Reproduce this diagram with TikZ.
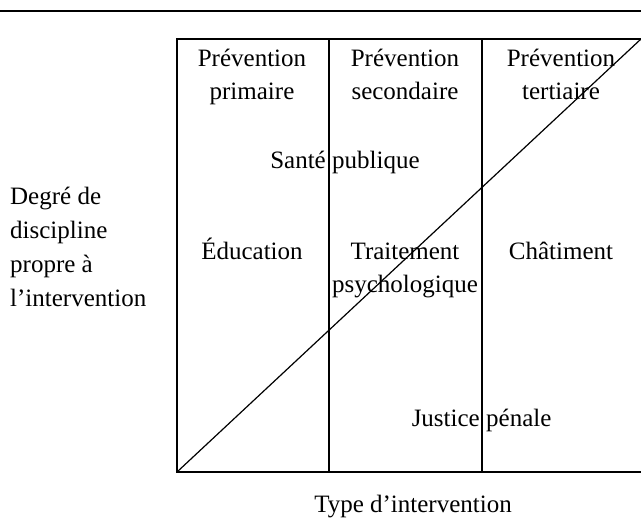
\documentclass[tikz,border=0pt]{standalone}
\usepackage{fontspec}
\setmainfont{Liberation Serif}
\begin{document}
\begin{tikzpicture}[x=1pt,y=-1pt,
  lbl/.style={inner sep=0pt,font=\fontsize{25}{33}\selectfont},
  frame/.style={line width=1.2pt,black}]
\useasboundingbox[fill=white] (0,0) rectangle (641,521);

% corners of the chart and column boundaries
\coordinate (tl) at (177,39);
\coordinate (tr) at (641,39);
\coordinate (bl) at (177,472);
\coordinate (br) at (641,472);
\coordinate (c1t) at (329,39);
\coordinate (c1b) at (329,472);
\coordinate (c2t) at (482,39);
\coordinate (c2b) at (482,472);
\coordinate (rl) at (0,11);
\coordinate (rr) at (641,11);

% rule above the figure
\draw[line width=1.3pt] (rl) -- (rr);

% frame, column separators and diagonal
\draw[frame] (tr) -- (tl) -- (bl) -- (br);
\draw[frame] (c1t) -- (c1b);
\draw[frame] (c2t) -- (c2b);
\draw[frame] (bl) -- (tr);

% column headings
\node[lbl,anchor=base] (h1a) at (252,67) {Prévention};
\node[lbl,anchor=base] (h1b) at (252,100) {primaire};
\node[lbl,anchor=base] (h2a) at (405,67) {Prévention};
\node[lbl,anchor=base] (h2b) at (405,100) {secondaire};
\node[lbl,anchor=base] (h3a) at (561,67) {Prévention};
\node[lbl,anchor=base] (h3b) at (561,100) {tertiaire};

% labels straddling the separators
\node[lbl,anchor=base east] (sa) at (326,169) {Santé};
\node[lbl,anchor=base west] (pu) at (332,169) {publique};
\node[lbl,anchor=base east] (ju) at (480,427) {Justice};
\node[lbl,anchor=base west] (pe) at (486,427) {pénale};

% middle row
\node[lbl,anchor=base] (ed) at (252,260) {Éducation};
\node[lbl,anchor=base] (tra) at (405,260) {Traitement};
\node[lbl,anchor=base] (trb) at (405,293) {psychologique};
\node[lbl,anchor=base] (ch) at (561,260) {Châtiment};

% axis labels
\node[lbl,anchor=base west] (ya) at (10,205) {Degré de};
\node[lbl,anchor=base west] (yb) at (10,239) {discipline};
\node[lbl,anchor=base west] (yc) at (10,273) {propre à};
\node[lbl,anchor=base west] (yd) at (10,307) {l’intervention};
\node[lbl,anchor=base] (xa) at (413,513) {Type d’intervention};
\end{tikzpicture}
\end{document}
